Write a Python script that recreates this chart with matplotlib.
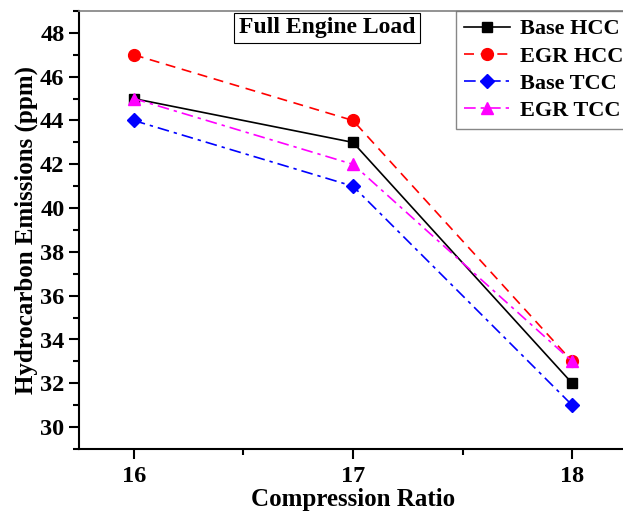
import matplotlib
matplotlib.use("Agg")
import matplotlib.pyplot as plt
from matplotlib.ticker import MultipleLocator

# Données
compression_ratio = [16, 17, 18]
base_hcc = [45, 43, 32]
egr_hcc = [47, 44, 33]
base_tcc = [44, 41, 31]
egr_tcc = [45, 42, 33]

plt.rcParams['font.family'] = ['Liberation Serif', 'DejaVu Serif']
plt.rcParams['font.weight'] = 'bold'

fig = plt.figure(figsize=(6.23, 5.16), dpi=100)
ax = fig.add_axes([79 / 623, 1 - 449 / 516, 548 / 623, 438 / 516])

ax.plot(compression_ratio, base_hcc, color='black', linestyle='-', marker='s',
        markersize=7, linewidth=1.2, label='Base HCC')
ax.plot(compression_ratio, egr_hcc, color='red', linestyle=(0, (6, 4)), marker='o',
        markersize=8.5, linewidth=1.2, label='EGR HCC')
ax.plot(compression_ratio, base_tcc, color='blue', linestyle=(0, (7, 3, 2, 3)), marker='D',
        markersize=7, linewidth=1.2, label='Base TCC')
ax.plot(compression_ratio, egr_tcc, color='magenta', linestyle=(0, (7, 3, 2, 3)), marker='^',
        markersize=8.5, linewidth=1.2, label='EGR TCC')

ax.set_xlim(15.75, 18.25)
ax.set_ylim(29, 49)
ax.xaxis.set_major_locator(MultipleLocator(1))
ax.xaxis.set_minor_locator(MultipleLocator(0.5))
ax.yaxis.set_major_locator(MultipleLocator(2))
ax.yaxis.set_minor_locator(MultipleLocator(1))
ax.set_yticks(range(30, 49, 2))

ax.tick_params(which='major', direction='out', length=7, width=1.5, labelsize=17.5)
ax.tick_params(axis='x', which='major', pad=5)
ax.tick_params(which='minor', direction='out', length=4, width=1.5)
ax.tick_params(top=False, right=False, which='both')

ax.spines['left'].set_linewidth(1.5)
ax.spines['bottom'].set_linewidth(1.5)
ax.spines['top'].set_color('gray')
ax.spines['top'].set_linewidth(1.2)

ax.set_xlabel('Compression Ratio', fontsize=18, fontweight='bold')
ax.set_ylabel('Hydrocarbon Emissions (ppm)', fontsize=18, fontweight='bold')
ax.xaxis.set_label_coords(0.5, -(488 - 449) / 438, transform=ax.transAxes)
ax.yaxis.set_label_coords(-(79 - 38) / 548, 0.5, transform=ax.transAxes)

ax.text(327 / 623, 1 - 28 / 516, 'Full Engine Load', transform=fig.transFigure,
        ha='center', va='center', fontsize=17, fontweight='bold',
        bbox=dict(boxstyle='square,pad=0.2', facecolor='white', edgecolor='black', linewidth=0.8))

leg = fig.legend(loc='upper left', bbox_to_anchor=(456 / 623, 1 - 11 / 516),
                 fontsize=16, frameon=True, fancybox=False, borderaxespad=0,
                 handlelength=2.1, handletextpad=0.45, labelspacing=0.3,
                 borderpad=0.35)
leg.get_frame().set_edgecolor('dimgray')
leg.get_frame().set_linewidth(1.0)
for t in leg.get_texts():
    t.set_fontweight('bold')

fig.savefig('out.png', dpi=100)
